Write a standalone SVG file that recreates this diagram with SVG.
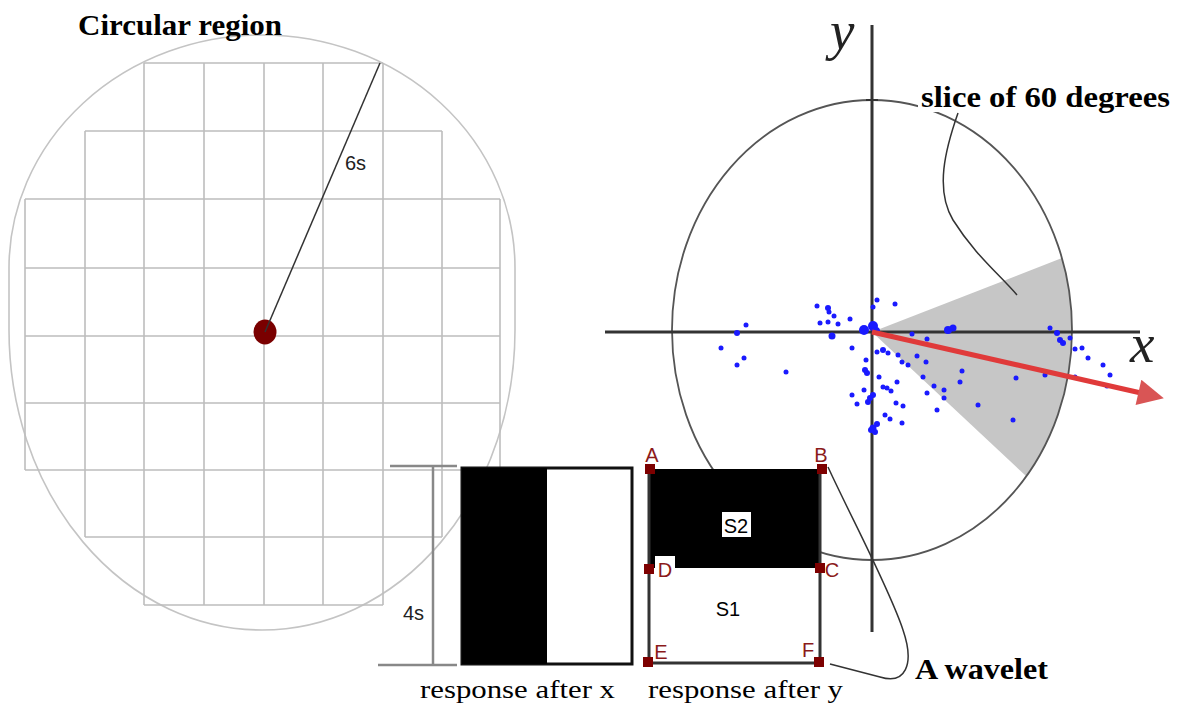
<svg xmlns="http://www.w3.org/2000/svg" width="1187" height="709" viewBox="0 0 1187 709">
<style>
.grid{stroke:#bdbdbd;stroke-width:1.6;fill:none}
.bold{font-family:"Liberation Serif","Times New Roman",serif;font-weight:bold;font-size:30px;fill:#000}
.reg{font-family:"Liberation Serif","Times New Roman",serif;font-size:26px;fill:#000}
.ital{font-family:"Liberation Serif","Times New Roman",serif;font-style:italic;font-size:55px;fill:#222}
.sans{font-family:"Liberation Sans",Arial,sans-serif;font-size:20px;fill:#222}
.pt{font-family:"Liberation Sans",Arial,sans-serif;font-size:20px;fill:#8b1a1a;text-anchor:middle}
.mk{fill:#7d0000}
.dot{fill:#1a1aff}
.ptr{stroke:#333;stroke-width:1.5;fill:none}
</style>
<defs>
<marker id="arrowHead" viewBox="0 0 10 10" refX="1" refY="5" markerWidth="6" markerHeight="5.2" orient="auto" markerUnits="strokeWidth">
<path d="M0,0 L10,5 L0,10 Z" fill="#d95555"/>
</marker>
</defs>
<rect width="1187" height="709" fill="#fff"/>

<g id="circular-region">
<path d="M9,268 A253,233 0 0 1 515,268 L515,330 A253,300 0 0 1 9,330 Z" fill="none" stroke="#c4c4c4" stroke-width="1.6"/>
<path class="grid" d="M144,63 H383 M85,131 H442 M25,199 H500 M25,268 H500 M25,336 H500 M25,403 H500 M25,470 H500 M85,537 H442 M144,605 H383"/>
<path class="grid" d="M25,199 V470 M85,131 V537 M144,63 V605 M204,63 V605 M264,63 V605 M323,63 V605 M383,63 V605 M442,131 V537 M500,199 V470"/>
<ellipse cx="265" cy="332" rx="11.5" ry="12.5" fill="#7a0000"/>
<text class="sans" x="345" y="170">6s</text>
<text class="bold" x="78" y="35" textLength="204" lengthAdjust="spacingAndGlyphs">Circular region</text>
</g>

<g id="polar-plot">
<path d="M872,332 L1062,258 A200,230 0 0 1 1026,476 Z" fill="#c6c6c6"/>
<ellipse cx="872" cy="330" rx="200" ry="230" fill="none" stroke="#555" stroke-width="1.8"/>
<line x1="605" y1="332" x2="1140" y2="332" stroke="#333" stroke-width="3"/>
<line x1="872" y1="25" x2="872" y2="632" stroke="#333" stroke-width="3"/>
<line x1="866" y1="100" x2="878" y2="100" stroke="#333" stroke-width="2"/>
<text class="ital" x="830" y="49">y</text>
<text class="ital" x="1130" y="362">x</text>
<g id="points">
<circle class="dot" cx="817" cy="306" r="2.5"/><circle class="dot" cx="828" cy="308" r="3"/><circle class="dot" cx="829" cy="312" r="2.5"/>
<circle class="dot" cx="834" cy="316" r="2.5"/><circle class="dot" cx="850" cy="319" r="2.5"/><circle class="dot" cx="820" cy="323" r="2.5"/>
<circle class="dot" cx="828" cy="322" r="2.5"/><circle class="dot" cx="838" cy="324" r="2.5"/><circle class="dot" cx="877" cy="300" r="2.5"/>
<circle class="dot" cx="895" cy="304" r="2.5"/><circle class="dot" cx="873" cy="307" r="2.5"/><circle class="dot" cx="873" cy="326" r="5"/>
<circle class="dot" cx="864" cy="330" r="5"/><circle class="dot" cx="876" cy="331" r="4"/><circle class="dot" cx="832" cy="336" r="3.5"/>
<circle class="dot" cx="746" cy="325" r="2.5"/><circle class="dot" cx="737" cy="333" r="3"/><circle class="dot" cx="721" cy="348" r="2.5"/>
<circle class="dot" cx="744" cy="358" r="2.5"/><circle class="dot" cx="737" cy="365" r="2.5"/><circle class="dot" cx="786" cy="372" r="2.5"/>
<circle class="dot" cx="852" cy="348" r="2.5"/><circle class="dot" cx="877" cy="352" r="2.5"/><circle class="dot" cx="883" cy="350" r="3"/>
<circle class="dot" cx="888" cy="353" r="2.5"/><circle class="dot" cx="898" cy="355" r="2.5"/><circle class="dot" cx="902" cy="362" r="2.5"/>
<circle class="dot" cx="908" cy="365" r="2.5"/><circle class="dot" cx="917" cy="356" r="2.5"/><circle class="dot" cx="912" cy="334" r="2.5"/>
<circle class="dot" cx="927" cy="339" r="2.5"/><circle class="dot" cx="926" cy="362" r="2.5"/><circle class="dot" cx="948" cy="330" r="4"/>
<circle class="dot" cx="953" cy="328" r="3.5"/><circle class="dot" cx="962" cy="371" r="2.5"/><circle class="dot" cx="960" cy="382" r="2.5"/>
<circle class="dot" cx="923" cy="377" r="2.5"/><circle class="dot" cx="934" cy="386" r="2.5"/><circle class="dot" cx="944" cy="390" r="2.5"/>
<circle class="dot" cx="944" cy="398" r="2.5"/><circle class="dot" cx="927" cy="393" r="2.5"/><circle class="dot" cx="937" cy="410" r="2.5"/>
<circle class="dot" cx="978" cy="405" r="2.5"/><circle class="dot" cx="1013" cy="420" r="2.5"/><circle class="dot" cx="1016" cy="378" r="2.5"/>
<circle class="dot" cx="1045" cy="375" r="2.5"/><circle class="dot" cx="1050" cy="328" r="2.5"/><circle class="dot" cx="1057" cy="333" r="3"/>
<circle class="dot" cx="1060" cy="340" r="3"/><circle class="dot" cx="1063" cy="343" r="3"/><circle class="dot" cx="1070" cy="338" r="2.5"/>
<circle class="dot" cx="1075" cy="349" r="2.5"/><circle class="dot" cx="1082" cy="348" r="2.5"/><circle class="dot" cx="1088" cy="358" r="2.5"/>
<circle class="dot" cx="1103" cy="365" r="2.5"/><circle class="dot" cx="1110" cy="375" r="2.5"/><circle class="dot" cx="1075" cy="377" r="2.5"/>
<circle class="dot" cx="1107" cy="386" r="2.5"/><circle class="dot" cx="866" cy="360" r="2.5"/><circle class="dot" cx="865" cy="370" r="3"/>
<circle class="dot" cx="867" cy="373" r="3"/><circle class="dot" cx="879" cy="377" r="2.5"/><circle class="dot" cx="897" cy="382" r="2.5"/>
<circle class="dot" cx="864" cy="390" r="2.5"/><circle class="dot" cx="883" cy="387" r="2.5"/><circle class="dot" cx="887" cy="388" r="2.5"/>
<circle class="dot" cx="891" cy="391" r="2.5"/><circle class="dot" cx="873" cy="395" r="3"/><circle class="dot" cx="870" cy="398" r="3"/>
<circle class="dot" cx="868" cy="402" r="3"/><circle class="dot" cx="852" cy="395" r="2.5"/><circle class="dot" cx="857" cy="404" r="2.5"/>
<circle class="dot" cx="896" cy="403" r="2.5"/><circle class="dot" cx="903" cy="406" r="2.5"/><circle class="dot" cx="885" cy="415" r="2.5"/>
<circle class="dot" cx="890" cy="419" r="2.5"/><circle class="dot" cx="902" cy="423" r="2.5"/><circle class="dot" cx="877" cy="424" r="3"/>
<circle class="dot" cx="873" cy="428" r="3.5"/><circle class="dot" cx="875" cy="432" r="3"/><circle class="dot" cx="871" cy="430" r="3"/>
</g>
<rect x="918" y="84" width="254" height="28" fill="#fff"/>
<text class="bold" x="921" y="107" textLength="249" lengthAdjust="spacingAndGlyphs">slice of 60 degrees</text>
</g>

<g id="response-x">
<line x1="390" y1="466" x2="457" y2="466" stroke="#888" stroke-width="2.5"/>
<line x1="378" y1="665" x2="457" y2="665" stroke="#888" stroke-width="2.5"/>
<line x1="433" y1="466" x2="433" y2="665" stroke="#888" stroke-width="2.5"/>
<text class="sans" x="403" y="620">4s</text>
<rect x="462" y="468" width="170" height="196" fill="#fff" stroke="#111" stroke-width="3"/>
<rect x="462" y="468" width="85" height="196" fill="#000"/>
<text class="reg" x="420" y="698" textLength="195" lengthAdjust="spacingAndGlyphs">response after x</text>
</g>

<g id="response-y">
<rect x="649" y="469" width="172" height="194" fill="#fff"/>
<rect x="649" y="469" width="172" height="99" fill="#000"/>
<path d="M649,469 V663 H820 V469" fill="none" stroke="#333" stroke-width="3"/>
<rect x="655" y="556" width="20" height="13" fill="#fff"/>
<rect x="722" y="512" width="29" height="25" fill="#fff"/>
<text class="sans" x="736" y="533" text-anchor="middle" style="fill:#000">S2</text>
<text class="sans" x="728" y="616" text-anchor="middle" style="fill:#000">S1</text>
<rect class="mk" x="645" y="464" width="10" height="10"/>
<rect class="mk" x="817" y="464" width="10" height="10"/>
<rect class="mk" x="815" y="563" width="10" height="10"/>
<rect class="mk" x="644" y="564" width="10" height="10"/>
<rect class="mk" x="643" y="657" width="10" height="10"/>
<rect class="mk" x="814" y="657" width="10" height="10"/>
<text class="pt" x="652" y="462">A</text>
<text class="pt" x="821" y="462">B</text>
<text class="pt" x="832" y="577">C</text>
<text class="pt" x="665" y="577">D</text>
<text class="pt" x="661" y="659">E</text>
<text class="pt" x="808" y="657">F</text>
<text class="reg" x="648" y="698" textLength="195" lengthAdjust="spacingAndGlyphs">response after y</text>
</g>

<g id="connectors">
<line x1="265" y1="332" x2="380" y2="63" stroke="#333" stroke-width="1.5"/>
<line x1="872" y1="332" x2="1141" y2="393" stroke="#e03a3a" stroke-width="5" marker-end="url(#arrowHead)"/>
<path class="ptr" d="M958,113 C945,150 935,190 953,220 C975,255 1000,275 1017,295"/>
<path class="ptr" d="M828,467 C850,515 890,590 903,630 C915,665 905,685 880,677 L830,664"/>
</g>
<text class="bold" x="915" y="679" textLength="133" lengthAdjust="spacingAndGlyphs">A wavelet</text>
</svg>
